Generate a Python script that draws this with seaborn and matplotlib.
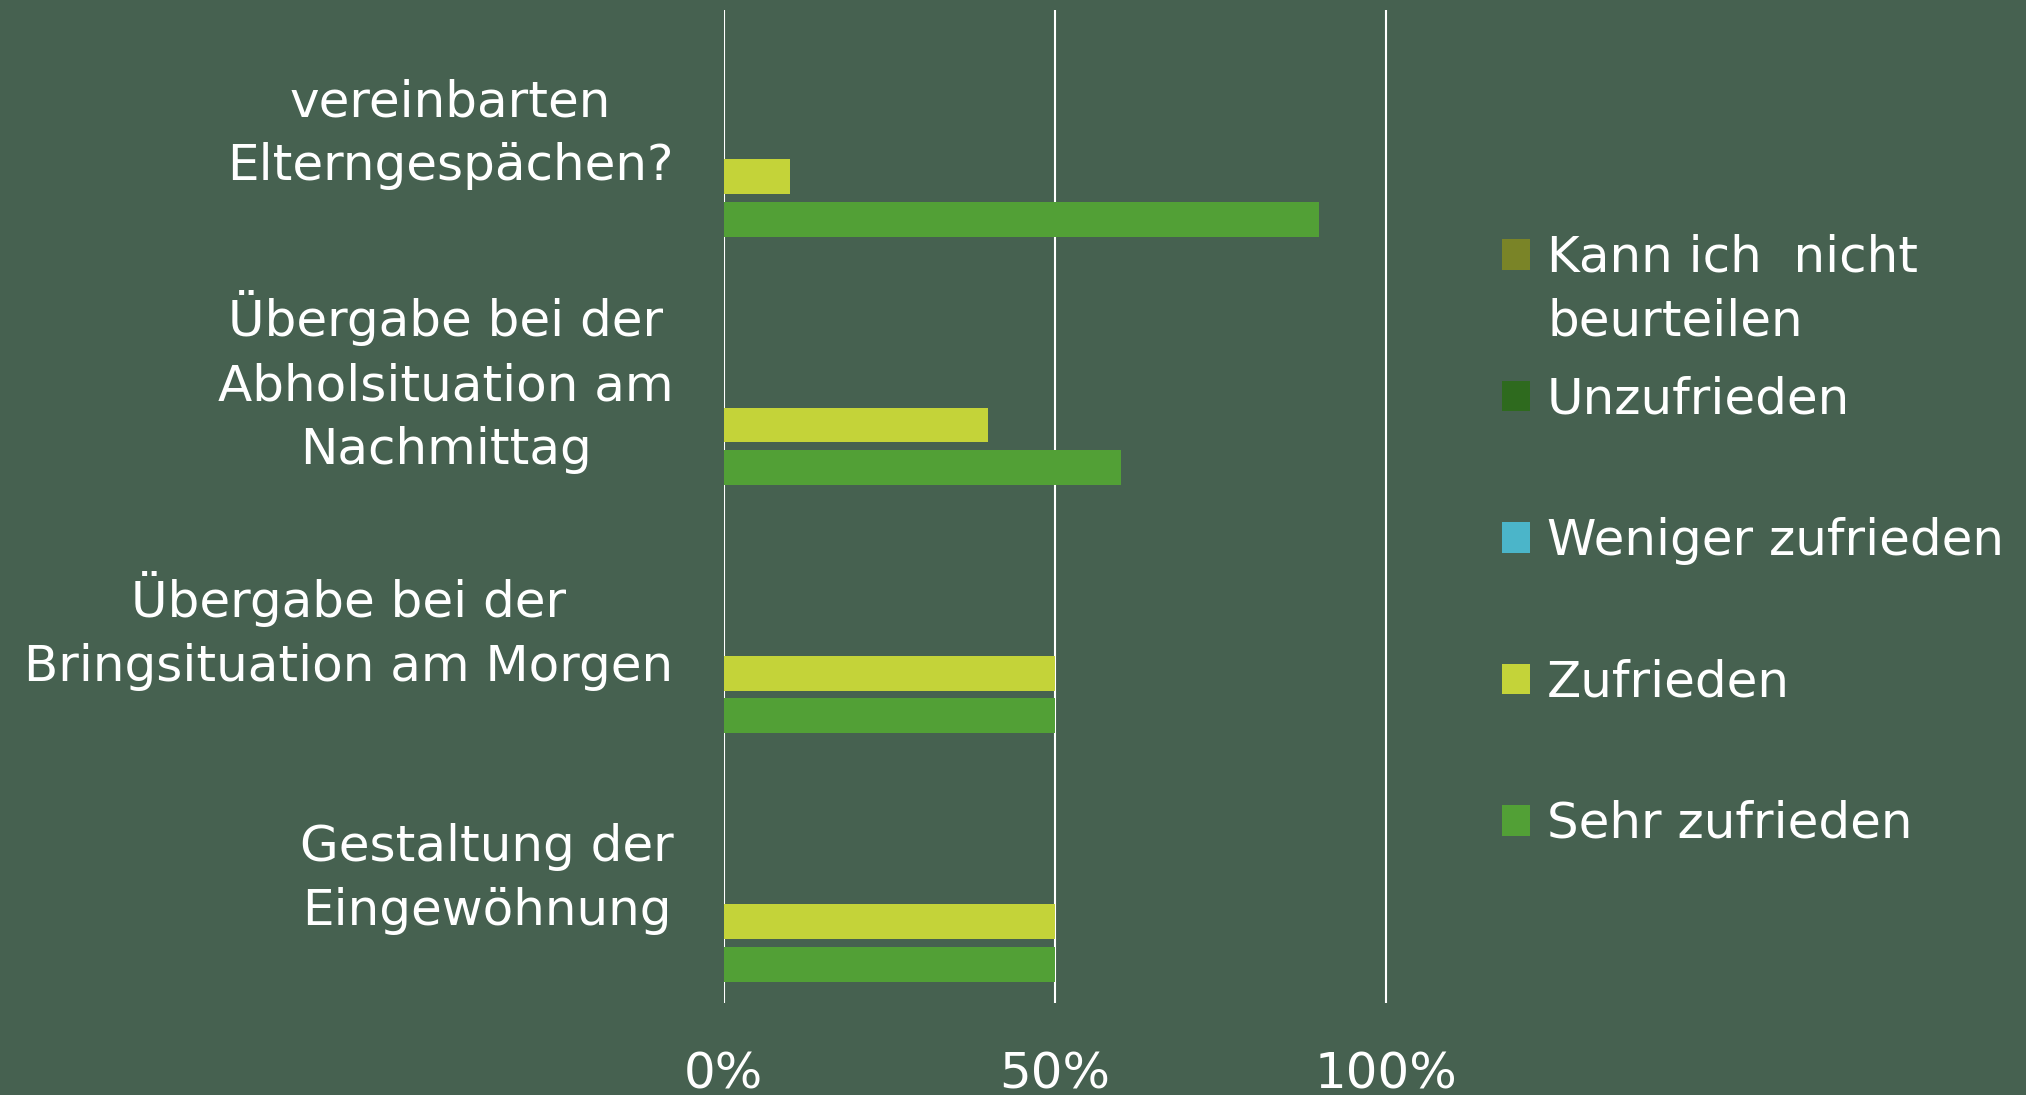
import matplotlib
matplotlib.use("Agg")
import matplotlib.pyplot as plt
import matplotlib.patches as mpatches
import seaborn as sns
import pandas as pd

# ---------- data ----------
categories = [
    "vereinbarten\nElterngespächen?",
    "Übergabe bei der\nAbholsituation am\nNachmittag",
    "Übergabe bei der\nBringsituation am Morgen",
    "Gestaltung der\nEingewöhnung",
]
series = ["Kann ich  nicht beurteilen", "Unzufrieden", "Weniger zufrieden",
          "Zufrieden", "Sehr zufrieden"]
kann_nicht = [0.0, 0.0, 0.0, 0.0]
unzufrieden = [0.0, 0.0, 0.0, 0.0]
weniger_zufrieden = [0.0, 0.0, 0.0, 0.0]
zufrieden = [0.10, 0.40, 0.50, 0.50]
sehr_zufrieden = [0.90, 0.60, 0.50, 0.50]
colors = ["#7A8427", "#2E6A1E", "#4BB5C9", "#C4D339", "#52A036"]
xticks = [0, 0.5, 1.0]
xtick_labels = ["0%", "50%", "100%"]

BG = "#466150"

# long format for seaborn
rows = []
for s, vals in zip(series, [kann_nicht, unzufrieden, weniger_zufrieden, zufrieden, sehr_zufrieden]):
    for c, v in zip(categories, vals):
        rows.append({"Frage": c, "Antwort": s, "Anteil": v})
df = pd.DataFrame(rows)

sns.set_style("white")
plt.rcParams["font.family"] = ["DejaVu Sans"]

# ---------- figure ----------
W, H = 2026, 1095
fig = plt.figure(figsize=(W / 100, H / 100), dpi=100, facecolor=BG)
left, right, top, bottom = 723.6, 1388.9, 10, 1003
ax = fig.add_axes([left / W, 1 - bottom / H, (right - left) / W, (bottom - top) / H])
ax.set_facecolor(BG)

sns.barplot(data=df, x="Anteil", y="Frage", hue="Antwort", order=categories,
            hue_order=series, palette=dict(zip(series, colors)), saturation=1,
            width=0.858, gap=0.18, linewidth=0, orient="h", errorbar=None,
            legend=False, ax=ax)

ax.set_xlim(0, 1.005)
ax.set_ylim(3.5, -0.5)
ax.set_xticks(xticks, xtick_labels)
ax.set_axisbelow(True)
ax.grid(axis="x", color="white", linewidth=1.5)
ax.grid(axis="y", visible=False)
for sp in ax.spines.values():
    sp.set_visible(False)
ax.tick_params(axis="x", length=0, pad=34, labelsize=36, labelcolor="white")
ax.tick_params(axis="y", length=0, pad=36, labelsize=36, labelcolor="white")
for t in ax.get_yticklabels():
    t.set_multialignment("center")
    t.set_linespacing(1.42)
    t.set_verticalalignment("center")
ax.set_xlabel("")
ax.set_ylabel("")

# ---------- legend ----------
handles = [mpatches.Patch(facecolor=c, edgecolor="none") for c in colors]
leg_labels = list(series)
leg_labels[0] = "Kann ich  nicht"
leg = fig.legend(handles, leg_labels, loc="upper left",
                 bbox_to_anchor=(1502 / W, 1 - 234 / H), frameon=False,
                 fontsize=36, labelcolor="white", handlelength=0.56,
                 handleheight=0.56, handletextpad=0.34, labelspacing=1.87,
                 borderpad=0, borderaxespad=0)

# wrapped second line of the first legend entry, placed under its first line
fig.canvas.draw()
bb = leg.get_texts()[0].get_window_extent()
fig.text(bb.x0 / W, (bb.y0 - 15) / H, "beurteilen", ha="left", va="top",
         fontsize=36, color="white")

fig.savefig("out.png", dpi=100, facecolor=BG)
